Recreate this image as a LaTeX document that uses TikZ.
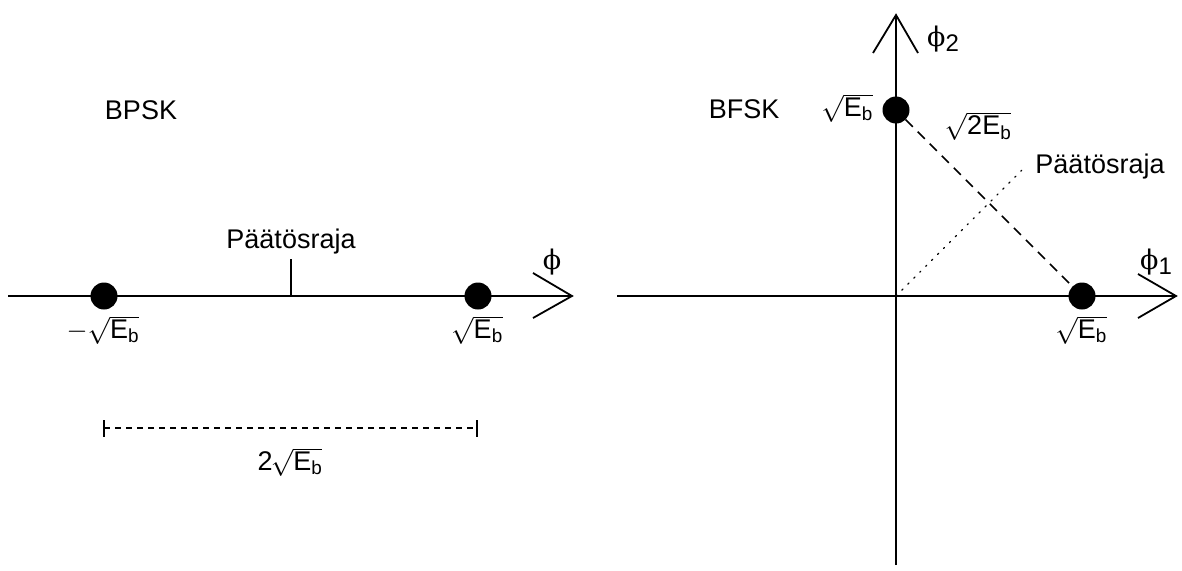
\RequirePackage{fix-cm}
\documentclass[tikz,border=0pt]{standalone}
\usepackage{fontspec}
\setmainfont{Liberation Sans}
\newfontfamily\phifont{DejaVu Serif}
\newcommand\sqE[1]{$\sqrt{\hbox{#1E\textsubscript{b}}}$}
\newcommand\phisub[1]{{\phifont ϕ}\raisebox{-5pt}{\fontsize{24}{28}\selectfont #1}}
\begin{document}
\begin{tikzpicture}[x=1pt,y=-1pt,
  axis/.style={line width=1.8pt, line join=miter},
  dot/.style={circle, fill=black, minimum size=27pt, inner sep=0pt},
  lbl/.style={font=\fontsize{27}{32}\selectfont, inner sep=0pt},
  dashline/.style={line width=1.5pt, dash pattern=on 6pt off 5pt},
  dashdiag/.style={line width=1.5pt, dash pattern=on 10pt off 7pt},
  dotline/.style={line width=1.3pt, dash pattern=on 1.4pt off 7pt, line cap=round}]
\useasboundingbox (0,0) rectangle (1182,570);
% ---------- left: BPSK ----------
\coordinate (a0) at (8,296);
\coordinate (a1) at (572,296);
\coordinate (ua) at (533,273);
\coordinate (la) at (533,318);
\draw[axis] (a0) -- (a1);
\draw[axis] (ua) -- (a1) -- (la);
\coordinate (t0) at (291,259);
\coordinate (t1) at (291,296);
\draw[axis] (t0) -- (t1);
\node[dot] (d1) at (104,296) {};
\node[dot] (d2) at (478,296) {};
\node[lbl, anchor=base] (bpsk) at (141,119) {BPSK};
\node[lbl, anchor=base] (pr1) at (291,248) {Päätösraja};
\node[lbl] (phi) at (552,262) {\phifont ϕ};
\node[lbl, anchor=north] (ml) at (103,316) {$-$\sqE{}};
\node[lbl, anchor=north] (mr) at (477,316) {\sqE{}};
\coordinate (m0) at (104,428);
\coordinate (m1) at (477,428);
\coordinate (m0u) at (104,420);
\coordinate (m0d) at (104,437);
\coordinate (m1u) at (477,420);
\coordinate (m1d) at (477,437);
\draw[line width=1.5pt] (m0u) -- (m0d);
\draw[line width=1.5pt] (m1u) -- (m1d);
\draw[dashline] (m0) -- (m1);
\node[lbl, anchor=north] (dist) at (290,448) {2\hspace{-2pt}\sqE{}};
% ---------- right: BFSK ----------
\coordinate (o) at (896,296);
\coordinate (h0) at (617,296);
\coordinate (h1) at (1176,296);
\coordinate (hu) at (1138,274);
\coordinate (hl) at (1138,318);
\coordinate (v0) at (896,565);
\coordinate (v1) at (896,15);
\coordinate (vl) at (873,53);
\coordinate (vr) at (918,53);
\draw[axis] (h0) -- (h1);
\draw[axis] (hu) -- (h1) -- (hl);
\draw[axis] (v0) -- (v1);
\draw[axis] (vl) -- (v1) -- (vr);
\coordinate (q) at (1024,168);
\draw[dotline] (o) -- (q);
\node[dot] (p1) at (896,110) {};
\node[dot] (p2) at (1082,296) {};
\draw[dashdiag] (p1) -- (p2);
\node[lbl, anchor=base] (bfsk) at (744,118) {BFSK};
\node[lbl, anchor=base] (pr2) at (1100,173) {Päätösraja};
\node[lbl, anchor=north] (l1) at (847,94) {\sqE{}};
\node[lbl, anchor=north] (l2) at (978,112) {\sqE{2}};
\node[lbl, anchor=north] (l3) at (1081,316) {\sqE{}};
\node[lbl, anchor=west] (phi1) at (1140,262) {\phisub{1}};
\node[lbl, anchor=west] (phi2) at (927,39) {\phisub{2}};
\end{tikzpicture}
\end{document}
